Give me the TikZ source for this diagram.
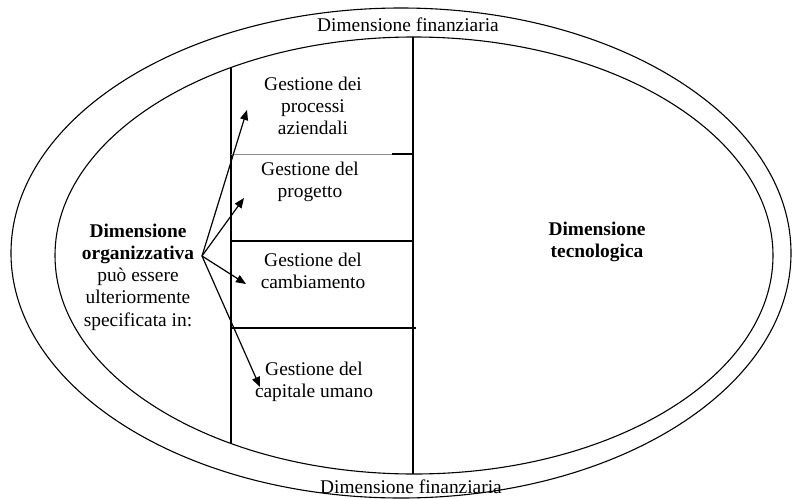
\documentclass[tikz,border=0pt]{standalone}
\usepackage{fontspec}
\setmainfont{Liberation Serif}
\usetikzlibrary{arrows.meta}
\begin{document}
\begin{tikzpicture}[x=1pt,y=-1pt,
  every node/.style={font=\fontsize{19.4}{22.3}\selectfont, align=center, inner sep=0pt},
  ring/.style={line width=1.1pt},
  rule/.style={line width=1.1pt},
  thinrule/.style={line width=0.8pt, draw=black!45},
  pointer/.style={line width=1.2pt, -{Triangle[length=10pt,width=8pt]}}]
  \useasboundingbox (0,0) rectangle (792,498);

  % two nested ellipses
  \draw[ring] (401,253) ellipse [x radius=390, y radius=245];
  \draw[ring] (414,255.5) ellipse [x radius=359, y radius=218.5];

  % vertical dividers
  \coordinate (midtop) at (413,37);
  \coordinate (midbot) at (413,474);
  \draw[rule] (midtop) -- (midbot);
  \coordinate (coltop) at (231,67);
  \coordinate (colbot) at (231,444);
  \draw[rule] (coltop) -- (colbot);

  % horizontal separators of the column
  \draw[thinrule] (231,154) -- (413,154);
  \draw[rule] (392,154) -- (413,154);
  \draw[rule] (231,241) -- (413,241);
  \draw[rule] (231,328) -- (416,328);

  % labels
  \node (fintop) at (408,25) {Dimensione finanziaria};
  \node (finbot) at (411,487) {Dimensione finanziaria};
  \node (org) at (138,277) {\textbf{Dimensione}\\\textbf{organizzativa}\\può essere\\ulteriormente\\specificata in:};
  \node (tec) at (597,242) {\textbf{Dimensione}\\\textbf{tecnologica}};

  \node (proc) at (313,106) {Gestione dei\\processi\\aziendali};
  \node (prog) at (310,182) {Gestione del\\progetto};
  \node (camb) at (313,271) {Gestione del\\cambiamento};
  \node (cap) at (314,382) {Gestione del\\capitale umano};

  % arrows
  \coordinate (src) at (202,256);
  \coordinate (toproc) at (247,110);
  \coordinate (toprog) at (244,198);
  \coordinate (tocamb) at (246,284);
  \coordinate (tocap) at (260,387);
  \draw[pointer] (src) -- (toproc);
  \draw[pointer] (src) -- (toprog);
  \draw[pointer] (src) -- (tocamb);
  \draw[pointer] (src) -- (tocap);
\end{tikzpicture}
\end{document}
